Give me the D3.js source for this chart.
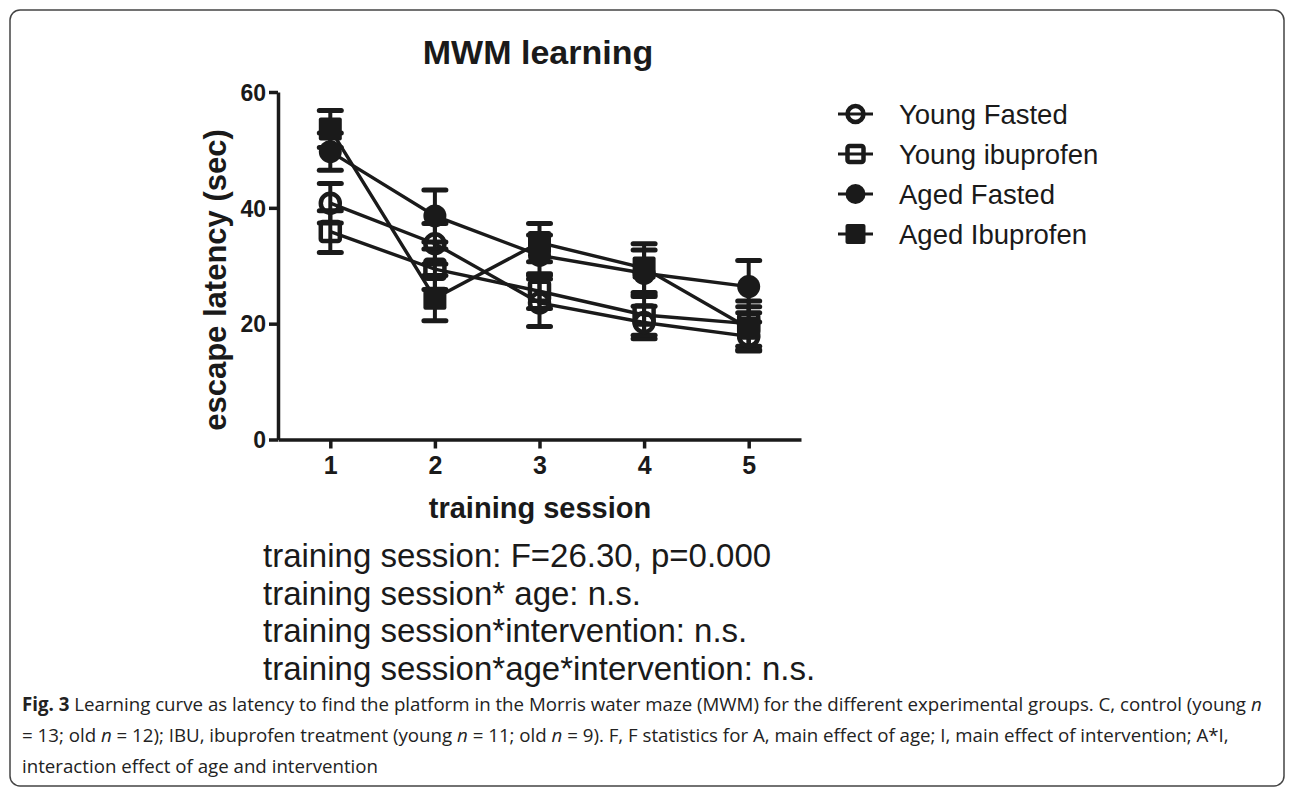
<!DOCTYPE html>
<html>
<head>
<meta charset="utf-8">
<script src="https://cdn.jsdelivr.net/npm/d3@7"></script>
<style>
  body { margin: 0; background: #fff; }
  svg text { font-family: "Liberation Sans", Arial, sans-serif; fill: #1a1a1a; }
  .cap text { font-family: "Open Sans", "Noto Sans", sans-serif; fill: #222; }
</style>
</head>
<body>
<svg id="chart" width="1292" height="789"></svg>
<script>
// data
var sessions = [1, 2, 3, 4, 5],
    groups = ['Young Fasted', 'Young ibuprofen', 'Aged Fasted', 'Aged Ibuprofen'],
    youngFasted = [40.8, 33.8, 23.6, 20.2, 17.8],
    youngFastedErr = [3.4, 3.5, 4.1, 2.8, 2.5],
    youngIbu = [35.9, 29.4, 25.6, 21.5, 20.0],
    youngIbuErr = [3.6, 3.5, 3.0, 3.5, 3.9],
    agedFasted = [49.7, 38.6, 31.8, 28.7, 26.4],
    agedFastedErr = [3.2, 4.5, 3.5, 4.0, 4.5],
    agedIbu = [53.6, 24.4, 34.0, 29.6, 19.2],
    agedIbuErr = [3.2, 3.9, 3.3, 4.2, 3.7],
    yTicks = [0, 20, 40, 60],
    statLines = ['training session: F=26.30, p=0.000',
                 'training session* age: n.s.',
                 'training session*intervention: n.s.',
                 'training session*age*intervention: n.s.'];

var ink = '#1a1a1a';
var series = [
  { name: groups[0], vals: youngFasted, err: youngFastedErr, shape: 'circle', filled: false },
  { name: groups[1], vals: youngIbu, err: youngIbuErr, shape: 'square', filled: false },
  { name: groups[2], vals: agedFasted, err: agedFastedErr, shape: 'circle', filled: true },
  { name: groups[3], vals: agedIbu, err: agedIbuErr, shape: 'square', filled: true }
];

var svg = d3.select('#chart');

// frame round figure + caption
svg.append('rect')
  .attr('x', 10).attr('y', 10).attr('width', 1274).attr('height', 776)
  .attr('rx', 10).attr('fill', 'none').attr('stroke', '#444').attr('stroke-width', 1.5);

var x = d3.scaleLinear().domain([0.5, 5.5]).range([278, 801]),
    y = d3.scaleLinear().domain([0, 60]).range([439.5, 92]);

// axes
var yAxis = svg.append('g').attr('transform', 'translate(278,0)')
  .call(d3.axisLeft(y).tickValues(yTicks).tickSize(9).tickSizeOuter(0).tickPadding(3));
var xAxis = svg.append('g').attr('transform', 'translate(0,439.5)')
  .call(d3.axisBottom(x).tickValues(sessions).tickFormat(d3.format('d'))
    .tickSize(9).tickSizeOuter(0).tickPadding(7));

[yAxis, xAxis].forEach(function(a) {
  a.selectAll('path, line').attr('stroke', ink).attr('stroke-width', 3.5);
  a.selectAll('text').attr('fill', ink).style('font-weight', 'bold');
});
yAxis.selectAll('text').style('font-size', '23px').attr('dy', '0.36em');
xAxis.selectAll('text').style('font-size', '25px').attr('dy', '0.72em');

// error bars
var bars = svg.append('g');
series.forEach(function(s) {
  s.vals.forEach(function(v, i) {
    var cx = x(sessions[i]), e = s.err[i];
    bars.append('line').attr('x1', cx).attr('x2', cx)
      .attr('y1', y(v - e)).attr('y2', y(v + e))
      .attr('stroke', ink).attr('stroke-width', 4);
    [v - e, v + e].forEach(function(c) {
      bars.append('line').attr('x1', cx - 11).attr('x2', cx + 11)
        .attr('y1', y(c)).attr('y2', y(c))
        .attr('stroke', ink).attr('stroke-width', 5).attr('stroke-linecap', 'round');
    });
  });
});

// connecting lines
var line = d3.line().x(function(d, i) { return x(sessions[i]); }).y(function(d) { return y(d); });
series.forEach(function(s) {
  svg.append('path').datum(s.vals).attr('d', line)
    .attr('fill', 'none').attr('stroke', ink).attr('stroke-width', 3.4);
});

function marker(g, s, cx, cy, r) {
  if (s.shape === 'circle') {
    g.append('circle').attr('cx', cx).attr('cy', cy).attr('r', s.filled ? r : r - 2)
      .attr('fill', s.filled ? ink : 'none')
      .attr('stroke', ink).attr('stroke-width', s.filled ? 0 : 4.5);
  } else {
    var h = s.filled ? r : r - 2;
    g.append('rect').attr('x', cx - h).attr('y', cy - h).attr('width', 2 * h).attr('height', 2 * h)
      .attr('rx', 2)
      .attr('fill', s.filled ? ink : 'none')
      .attr('stroke', ink).attr('stroke-width', s.filled ? 0 : 4.5);
  }
}

var marks = svg.append('g');
series.forEach(function(s) {
  s.vals.forEach(function(v, i) { marker(marks, s, x(sessions[i]), y(v), 11.5); });
});

// legend
var legend = svg.append('g');
series.forEach(function(s, i) {
  var ly = 114 + i * 40;
  legend.append('line').attr('x1', 838).attr('x2', 873).attr('y1', ly).attr('y2', ly)
    .attr('stroke', ink).attr('stroke-width', 3);
  marker(legend, s, 855.5, ly, 10);
  legend.append('text').attr('x', 899).attr('y', ly).attr('dy', '0.36em')
    .style('font-size', '27.5px').text(s.name);
});

// titles
svg.append('text').attr('x', 538).attr('y', 64).attr('text-anchor', 'middle')
  .style('font-size', '34px').style('font-weight', 'bold').text('MWM learning');
svg.append('text').attr('transform', 'translate(226,280) rotate(-90)')
  .attr('text-anchor', 'middle').style('font-size', '31px').style('font-weight', 'bold')
  .text('escape latency (sec)');
svg.append('text').attr('x', 540).attr('y', 518).attr('text-anchor', 'middle')
  .style('font-size', '29px').style('font-weight', 'bold').text('training session');

// statistics
svg.append('g').selectAll('text').data(statLines).join('text')
  .attr('x', 263).attr('y', function(d, i) { return 567 + i * 37.5; })
  .style('font-size', '33px').text(function(d) { return d; });

// caption
var cap = svg.append('g').attr('class', 'cap').style('font-size', '18.7px');
var c1 = cap.append('text').attr('x', 22).attr('y', 711);
c1.append('tspan').style('font-weight', 'bold').text('Fig. 3');
c1.append('tspan').text(' Learning curve as latency to find the platform in the Morris water maze (MWM) for the different experimental groups. C, control (young ');
c1.append('tspan').style('font-style', 'italic').text('n');
var c2 = cap.append('text').attr('x', 22).attr('y', 742);
c2.append('tspan').text('= 13; old ');
c2.append('tspan').style('font-style', 'italic').text('n');
c2.append('tspan').text(' = 12); IBU, ibuprofen treatment (young ');
c2.append('tspan').style('font-style', 'italic').text('n');
c2.append('tspan').text(' = 11; old ');
c2.append('tspan').style('font-style', 'italic').text('n');
c2.append('tspan').text(' = 9). F, F statistics for A, main effect of age; I, main effect of intervention; A*I,');
cap.append('text').attr('x', 22).attr('y', 773).text('interaction effect of age and intervention');
</script>
</body>
</html>
